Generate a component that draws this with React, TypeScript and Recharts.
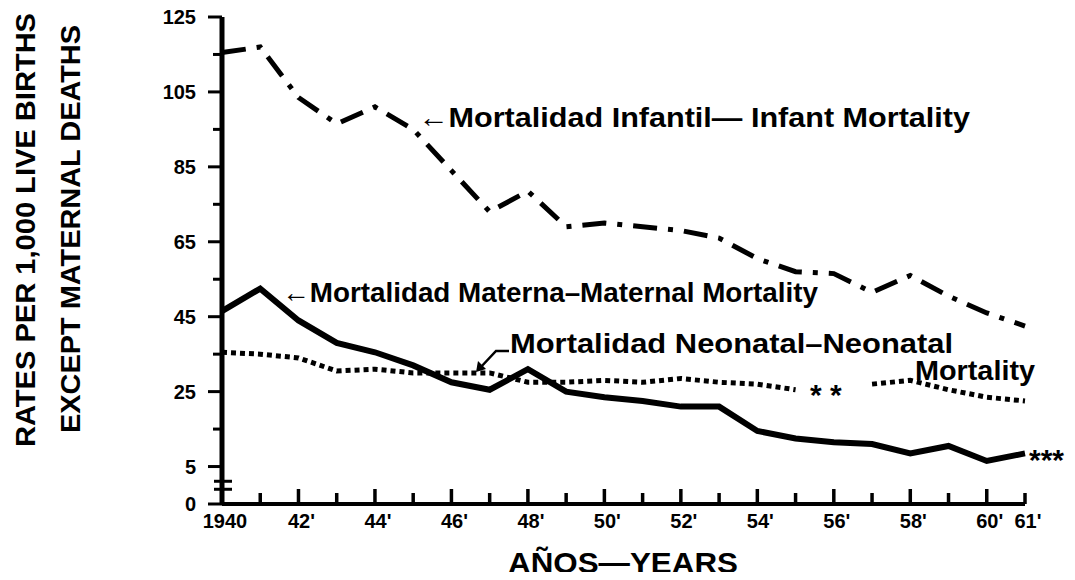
import React from "react";
import { LineChart, Line, XAxis, YAxis, ReferenceDot } from "recharts";

const FONT = '"Liberation Sans", Arial, sans-serif';

const years = [
  1940, 1941, 1942, 1943, 1944, 1945, 1946, 1947, 1948, 1949, 1950,
  1951, 1952, 1953, 1954, 1955, 1956, 1957, 1958, 1959, 1960, 1961,
];
const infantil = [
  115.5, 117, 103.5, 96.5, 101, 95, 84, 73, 78.5, 69, 70,
  69, 68, 66, 60.5, 57, 56.5, 51.5, 56, 50.5, 46, 42.5,
];
const materna = [
  46.5, 52.5, 44, 38, 35.5, 32, 27.5, 25.5, 31, 25, 23.5,
  22.5, 21, 21, 14.5, 12.5, 11.5, 11, 8.5, 10.5, 6.5, 8.5,
];
const neonatal: (number | null)[] = [
  35.5, 35, 34, 30.5, 31, 30, 30, 30, 27.5, 27.5, 28,
  27.5, 28.5, 27.5, 27, 25.5, null, 27, 28, 25.5, 23.5, 22.5,
];

// broken axis: bottom tick stands for 0
const yTicks = [-5, 5, 15, 25, 35, 45, 55, 65, 75, 85, 95, 105, 115, 125];
const yLabels: Record<number, string> = {
  [-5]: "0", 5: "5", 25: "25", 45: "45", 65: "65", 85: "85", 105: "105", 125: "125",
};
const xLabels: Record<number, string> = {
  1940: "1940", 1942: "42'", 1944: "44'", 1946: "46'", 1948: "48'", 1950: "50'",
  1952: "52'", 1954: "54'", 1956: "56'", 1958: "58'", 1960: "60'", 1961: "61'",
};

const data = years.map((year, i) => ({
  year,
  infantil: infantil[i],
  materna: materna[i],
  neonatal: neonatal[i],
}));

const YTick = (props: any) => {
  const { x, y, payload } = props;
  const label = yLabels[payload.value];
  const len = label ? 14 : 9;
  return (
    <g>
      <line x1={x - len} x2={x} y1={y} y2={y} stroke="#000" strokeWidth={3} />
      {label && (
        <text x={x - 26} y={y} dy={7} textAnchor="end" fontFamily={FONT} fontWeight="bold" fontSize={20} fill="#000">
          {label}
        </text>
      )}
    </g>
  );
};

const XTick = (props: any) => {
  const { x, y, payload } = props;
  const label = xLabels[payload.value];
  const len = payload.value % 2 === 0 ? 15 : 11;
  return (
    <g>
      <line x1={x} x2={x} y1={y} y2={y - len} stroke="#000" strokeWidth={3.5} />
      {label && (
        <text x={x + 3} y={y + 24} textAnchor="middle" fontFamily={FONT} fontWeight="bold" fontSize={20} fill="#000">
          {label}
        </text>
      )}
    </g>
  );
};

const AxisBreak = (props: any) => {
  const { cx, cy } = props;
  return (
    <g>
      <line x1={cx - 8} x2={cx + 10} y1={cy - 4} y2={cy - 4} stroke="#000" strokeWidth={3} />
      <line x1={cx - 8} x2={cx + 10} y1={cy + 4} y2={cy + 4} stroke="#000" strokeWidth={3} />
    </g>
  );
};

const Stars = (text: string, dx: number, anchor: string) => (props: any) => {
  const { cx, cy } = props;
  return (
    <text x={cx + dx} y={cy + 17} textAnchor={anchor} fontFamily={FONT} fontWeight="bold" fontSize={30} fill="#000">
      {text}
    </text>
  );
};

const txt = {
  fontFamily: FONT,
  fontWeight: "bold" as const,
  fill: "#000",
  lengthAdjust: "spacingAndGlyphs" as const,
};

export default function App() {
  return (
    <div style={{ position: "relative", width: 1075, height: 580, margin: -8, overflow: "hidden", background: "#fff" }}>
      <LineChart width={1075} height={580} data={data} margin={{ top: 17, right: 50, bottom: 0, left: 0 }}>
        <XAxis
          dataKey="year"
          type="number"
          domain={[1940, 1961]}
          ticks={years}
          interval={0}
          height={76}
          tickSize={0}
          tickMargin={0}
          tickLine={false}
          axisLine={{ stroke: "#000", strokeWidth: 4 }}
          tick={<XTick />}
        />
        <YAxis
          type="number"
          domain={[-5, 125]}
          ticks={yTicks}
          interval={0}
          width={222}
          tickSize={0}
          tickMargin={0}
          tickLine={false}
          axisLine={{ stroke: "#000", strokeWidth: 5 }}
          tick={<YTick />}
        />
        <Line
          type="linear"
          dataKey="infantil"
          stroke="#000"
          strokeWidth={5}
          strokeDasharray="24 11 5 11"
          dot={false}
          isAnimationActive={false}
        />
        <Line
          type="linear"
          dataKey="neonatal"
          stroke="#000"
          strokeWidth={5}
          strokeDasharray="5 4"
          dot={false}
          isAnimationActive={false}
        />
        <Line
          type="linear"
          dataKey="materna"
          stroke="#000"
          strokeWidth={6}
          dot={false}
          isAnimationActive={false}
        />
        <ReferenceDot x={1940} y={0} r={0} shape={<AxisBreak />} />
        <ReferenceDot x={1956} y={26} r={0} shape={Stars("* *", -8, "middle")} />
        <ReferenceDot x={1961} y={8.5} r={0} shape={Stars("***", 4, "start")} />
      </LineChart>
      <svg width={1075} height={580} style={{ position: "absolute", left: 0, top: 0, pointerEvents: "none" }}>
        <text {...txt} transform="translate(35,230) rotate(-90)" textAnchor="middle" fontSize={27} textLength={434}>
          RATES PER 1,000 LIVE BIRTHS
        </text>
        <text {...txt} transform="translate(80,229) rotate(-90)" textAnchor="middle" fontSize={27} textLength={408}>
          EXCEPT MATERNAL DEATHS
        </text>
        <text {...txt} x={418} y={127} fontSize={28} textLength={552}>
          ←Mortalidad Infantil— Infant Mortality
        </text>
        <text {...txt} x={282} y={302} fontSize={28} textLength={536}>
          ←Mortalidad Materna–Maternal Mortality
        </text>
        <text {...txt} x={510} y={353} fontSize={28} textLength={443}>
          Mortalidad Neonatal–Neonatal
        </text>
        <text {...txt} x={915} y={380} fontSize={28} textLength={120}>
          Mortality
        </text>
        <path d="M509,351 L496,351 L480,368" fill="none" stroke="#000" strokeWidth={2.5} />
        <path d="M476,372 L478,361 L486,369 Z" fill="#000" />
        <text {...txt} x={508} y={573} fontSize={30} textLength={230}>
          AÑOS—YEARS
        </text>
      </svg>
    </div>
  );
}
